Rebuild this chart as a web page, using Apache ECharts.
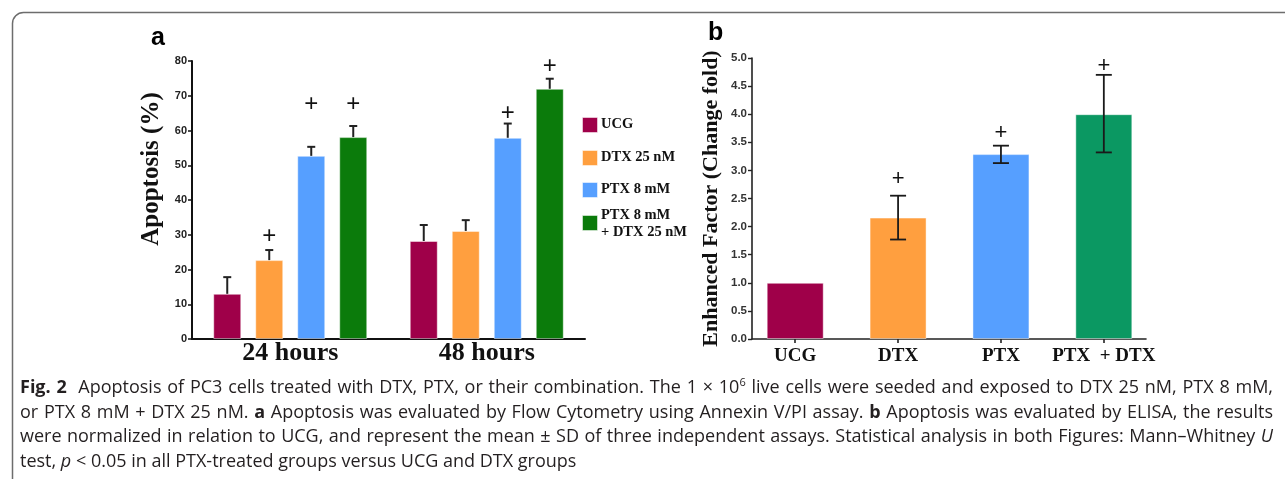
<!DOCTYPE html>
<html>
<head>
<meta charset="utf-8">
<script src="https://cdn.jsdelivr.net/npm/echarts@6/dist/echarts.min.js"></script>
<style>
html,body{margin:0;padding:0;background:#fff;}
#wrap{position:relative;width:1285px;height:479px;overflow:hidden;}
#chart{position:absolute;left:0;top:0;width:1285px;height:479px;}
#caption{position:absolute;left:20px;top:374px;width:1253px;font-family:"Open Sans",Lato,sans-serif;font-size:18px;line-height:24.5px;color:#231f20;}
#caption .ln{display:block;white-space:nowrap;text-align:justify;text-align-last:justify;}
#caption .ln.last{text-align:left;text-align-last:left;}
#caption b{font-weight:700;}
</style>
</head>
<body>
<div id="wrap">
<div id="chart"></div>
<div id="caption">
<span class="ln"><b>Fig. 2</b>&nbsp; Apoptosis of PC3 cells treated with DTX, PTX, or their combination. The 1 × 10<sup style="font-size:11px;line-height:0">6</sup> live cells were seeded and exposed to DTX 25 nM, PTX 8 mM,</span>
<span class="ln">or PTX 8 mM + DTX 25 nM. <b>a</b> Apoptosis was evaluated by Flow Cytometry using Annexin V/PI assay. <b>b</b> Apoptosis was evaluated by ELISA, the results</span>
<span class="ln">were normalized in relation to UCG, and represent the mean ± SD of three independent assays. Statistical analysis in both Figures: Mann–Whitney <i>U</i></span>
<span class="ln last">test, <i>p</i> &lt; 0.05 in all PTX-treated groups versus UCG and DTX groups</span>
</div>
</div>
<script>
// ---------- Panel a data ----------
const categoriesA = ['24 hours', '48 hours'];
const seriesNamesA = ['UCG', 'DTX 25 nM', 'PTX 8 mM', 'PTX 8 mM\n+ DTX 25 nM'];
const ucgA   = [13.0, 28.2];
const dtxA   = [22.7, 31.1];
const ptxA   = [52.7, 57.9];
const comboA = [58.1, 72.0];
// upper end of SD error bar
const ucgErrA   = [17.8, 32.8];
const dtxErrA   = [25.6, 34.2];
const ptxErrA   = [55.3, 62.0];
const comboErrA = [61.3, 74.9];
// position of "+" significance marks (null = none)
const ucgPlusA   = [null, null];
const dtxPlusA   = [30.0, null];
const ptxPlusA   = [68.0, 65.4];
const comboPlusA = [68.0, 79.0];

// ---------- Panel b data ----------
const categoriesB = ['UCG', 'DTX', 'PTX', 'PTX  + DTX'];
const valuesB   = [1.00, 2.16, 3.29, 4.00];
const errLowB   = [null, 1.77, 3.13, 3.32];
const errHighB  = [null, 2.55, 3.44, 4.70];
const plusB     = [null, 2.89, 3.70, 4.90];

// ---------- styles ----------
const colorsA = ['#9f0049', '#ff9f3f', '#569fff', '#0b7b0b'];
const colorsB = ['#9f0049', '#ff9f3f', '#569fff', '#0b9862'];
const BAR_W_A = 28, BAR_GAP_A = 0.5;
const BAR_W_B = 57;
const PLUS_DY = 2;
const SERIF = '"Liberation Serif", "DejaVu Serif", serif';
const SANS = 'Arial, "Liberation Sans", sans-serif';

const valsA = [ucgA, dtxA, ptxA, comboA];
const errsA = [ucgErrA, dtxErrA, ptxErrA, comboErrA];
const plusesA = [ucgPlusA, dtxPlusA, ptxPlusA, comboPlusA];

const chart = echarts.init(document.getElementById('chart'));

const series = [];
// panel a bars
valsA.forEach((vals, i) => {
  series.push({
    type: 'bar', name: seriesNamesA[i], xAxisIndex: 0, yAxisIndex: 0,
    data: vals, barWidth: BAR_W_A, barGap: (BAR_GAP_A * 100) + '%',
    itemStyle: { color: colorsA[i], borderColor: 'rgba(255,255,255,0.45)', borderWidth: 1 },
    silent: true
  });
});
// panel a error bars + plus marks
valsA.forEach((vals, i) => {
  const offset = (i - (valsA.length - 1) / 2) * BAR_W_A * (1 + BAR_GAP_A);
  series.push({
    type: 'custom', xAxisIndex: 0, yAxisIndex: 0, silent: true, z: 5,
    data: vals.map((v, k) => [k, v, errsA[i][k], plusesA[i][k] == null ? -1 : plusesA[i][k]]),
    renderItem: function (params, api) {
      const k = api.value(0);
      const base = api.coord([k, api.value(1)]);
      const top = api.coord([k, api.value(2)]);
      const x = base[0] + offset;
      const children = [
        { type: 'line', shape: { x1: x, y1: base[1], x2: x, y2: top[1] }, style: { stroke: '#222', lineWidth: 2 } },
        { type: 'line', shape: { x1: x - 4, y1: top[1], x2: x + 4, y2: top[1] }, style: { stroke: '#222', lineWidth: 2 } }
      ];
      const pv = api.value(3);
      if (pv >= 0) {
        const p = api.coord([k, pv]);
        children.push({ type: 'text', x: x, y: p[1] + PLUS_DY, style: { text: '+', font: '24px ' + SANS, fill: '#111', align: 'center', verticalAlign: 'middle' } });
      }
      return { type: 'group', children: children };
    }
  });
});
// panel b bars
series.push({
  type: 'bar', xAxisIndex: 1, yAxisIndex: 1, barWidth: BAR_W_B, silent: true,
  data: valuesB.map((v, i) => ({ value: [i, v], itemStyle: { color: colorsB[i] } })),
  itemStyle: { borderColor: 'rgba(255,255,255,0.45)', borderWidth: 1 }
});
// panel b error bars + plus (only for groups that have them)
const errItemsB = [];
valuesB.forEach((v, i) => { if (errLowB[i] != null) errItemsB.push([i, errLowB[i], errHighB[i], plusB[i]]); });
series.push({
  type: 'custom', xAxisIndex: 1, yAxisIndex: 1, silent: true, z: 5,
  data: errItemsB,
  renderItem: function (params, api) {
    const a = api.coord([api.value(0), api.value(1)]);
    const b = api.coord([api.value(0), api.value(2)]);
    const p = api.coord([api.value(0), api.value(3)]);
    const x = a[0];
    const st = { stroke: '#1a1a1a', lineWidth: 1.8 };
    return { type: 'group', children: [
      { type: 'line', shape: { x1: x, y1: a[1], x2: x, y2: b[1] }, style: st },
      { type: 'line', shape: { x1: x - 8, y1: a[1], x2: x + 8, y2: a[1] }, style: st },
      { type: 'line', shape: { x1: x - 8, y1: b[1], x2: x + 8, y2: b[1] }, style: st },
      { type: 'text', x: x, y: p[1] + PLUS_DY, style: { text: '+', font: '22px ' + SANS, fill: '#111', align: 'center', verticalAlign: 'middle' } }
    ]};
  }
});

// legend built from series names / colours
const legendGraphics = [];
const legendTops = [117, 150, 182, 215];
seriesNamesA.forEach((n, i) => {
  legendGraphics.push({ type: 'rect', left: 582, top: legendTops[i], shape: { width: 15, height: 15 }, style: { fill: colorsA[i], stroke: 'rgba(255,255,255,0.5)', lineWidth: 1 } });
  legendGraphics.push({ type: 'text', left: 601, top: legendTops[i] - (i === 3 ? 8 : 1), style: { text: n, font: 'bold 14.5px ' + SERIF, fill: '#111', lineHeight: 17 } });
});

const option = {
  animation: false,
  grid: [
    { left: 192, top: 61, width: 393, height: 278 },
    { left: 752, top: 58, width: 394, height: 281 }
  ],
  xAxis: [
    {
      type: 'category', gridIndex: 0, data: categoriesA,
      axisLine: { lineStyle: { color: '#111', width: 2 } },
      axisTick: { alignWithLabel: true, length: 5, lineStyle: { color: '#111', width: 2 } },
      axisLabel: { margin: 1, color: '#111', fontFamily: SERIF, fontWeight: 'bold', fontSize: 26 }
    },
    {
      type: 'value', gridIndex: 1, min: -0.42, max: 3.41,
      splitLine: { show: false },
      axisLine: { show: true, onZero: false, lineStyle: { color: '#222', width: 1.6 } },
      axisTick: { show: true, length: 4, customValues: categoriesB.map((c, i) => i), lineStyle: { color: '#222', width: 1.6 } },
      axisLabel: { margin: 8, color: '#111', customValues: categoriesB.map((c, i) => i), formatter: v => categoriesB[v], fontFamily: SERIF, fontWeight: 'bold', fontSize: 19 }
    }
  ],
  yAxis: [
    {
      type: 'value', gridIndex: 0, min: 0, max: 80, interval: 10,
      name: 'Apoptosis (%)', nameLocation: 'middle', nameGap: 28, nameRotate: 90,
      nameTextStyle: { fontFamily: SERIF, fontWeight: 'bold', fontSize: 25, color: '#111', padding: [0, 0, 0, 62] },
      splitLine: { show: false },
      axisLine: { show: true, onZero: false, lineStyle: { color: '#111', width: 2 } },
      axisTick: { show: true, length: 4, lineStyle: { color: '#111', width: 1.5 } },
      axisLabel: { margin: 5, color: '#222', fontFamily: SANS, fontWeight: 'bold', fontSize: 11 }
    },
    {
      type: 'value', gridIndex: 1, min: 0, max: 5, interval: 0.5,
      name: 'Enhanced Factor (Change fold)', nameLocation: 'middle', nameGap: 30, nameRotate: 90,
      nameTextStyle: { fontFamily: SERIF, fontWeight: 'bold', fontSize: 22, color: '#111' },
      splitLine: { show: false },
      axisLine: { show: true, onZero: false, lineStyle: { color: '#222', width: 1.6 } },
      axisTick: { show: true, length: 4, lineStyle: { color: '#222', width: 1.4 } },
      axisLabel: { margin: 5, color: '#333', fontFamily: SANS, fontWeight: 'bold', fontSize: 11.5, formatter: v => v.toFixed(1) }
    }
  ],
  graphic: [
    { type: 'rect', left: 10, top: 10, shape: { width: 1400, height: 600, r: 11 }, style: { fill: 'none', stroke: '#6d6d6d', lineWidth: 1.5 }, z: -1 },
    { type: 'text', left: 151, top: 26, style: { text: 'a', font: 'bold 25px ' + SANS, fill: '#000' } },
    { type: 'text', left: 708, top: 21, style: { text: 'b', font: 'bold 25px ' + SANS, fill: '#000' } }
  ].concat(legendGraphics),
  series: series
};
chart.setOption(option);
</script>
</body>
</html>
